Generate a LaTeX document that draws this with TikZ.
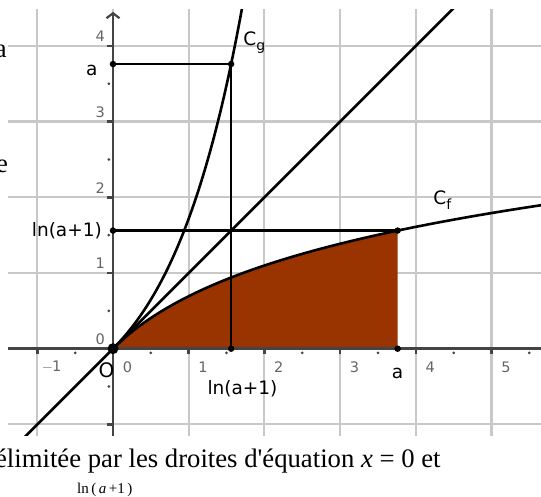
\documentclass[tikz,border=0pt]{standalone}
\usepackage{fontspec}
\newfontfamily\prosefont{Liberation Serif}
\newfontfamily\labfont{DejaVu Sans}
\usetikzlibrary{arrows.meta}
\definecolor{gridgray}{RGB}{200,200,200}
\definecolor{axisgray}{RGB}{68,68,68}
\definecolor{ticklab}{RGB}{100,100,100}
\definecolor{areabrown}{RGB}{153,51,0}
\begin{document}
\begin{tikzpicture}[x=75.7pt,y=75.7pt,
  gridline/.style={draw=gridgray,line width=2.2pt},
  axisline/.style={draw=axisgray,line width=2.5pt},
  curve/.style={draw=black,line width=2.6pt},
  seg/.style={draw=black,line width=2.4pt},
  pt/.style={circle,fill=black,inner sep=0pt,minimum size=6.5pt},
  bigpt/.style={circle,fill=black,inner sep=0pt,minimum size=11pt},
  lab/.style={font=\labfont\fontsize{18.5}{21}\selectfont,inner sep=0pt},
  ticklabel/.style={font=\labfont\fontsize{14.5}{16}\selectfont,text=ticklab,inner sep=0pt},
  prose/.style={font=\prosefont\fontsize{26.7}{30}\selectfont,inner sep=0pt}]
\useasboundingbox (-1.4927,-1.9591) rectangle (5.6539,4.6063);
\pgfmathsetmacro{\A}{3.76}
\pgfmathsetmacro{\L}{ln(1+\A)}
% grid
\foreach \i in {-1,...,5} \draw[gridline] (\i,-1.153) -- (\i,4.487);
\foreach \j in {-1,...,4} \draw[gridline] (-1.387,\j) -- (5.70,\j);
% area
\fill[areabrown] (0,0) -- plot[domain=0:\A,samples=60] (\x,{ln(1+\x)}) -- (\A,0) -- cycle;
% axes
\draw[axisline,-{Straight Barb[length=5pt,width=13pt,line width=2.2pt]}] (-1.387,0) -- (5.75,0);
\draw[axisline,-{Straight Barb[length=5pt,width=13pt,line width=2.2pt]}] (0,-1.153) -- (0,4.45);
\foreach \i in {-1,1,2,3,4,5} \draw[axisline] (\i,0) -- (\i,-0.075);
\foreach \j in {-1,1,2,3,4} \draw[axisline] (0,\j) -- (-0.075,\j);
\foreach \i in {-1,0,...,5} \fill[axisgray] (\i+0.5,-0.055) circle (1.5pt);
\foreach \j in {-1,0,...,3} \fill[axisgray] (-0.055,\j+0.5) circle (1.5pt);
% tick labels
\foreach \i in {-1,0,1,2,3,4,5} \node[ticklabel] (tx\i) at (\i+0.19,-0.245) {\ifnum\i<0 $-$\kern-1pt1\else\i\fi};
\foreach \j in {0,1,2,3,4} \node[ticklabel] (ty\j) at (-0.17,\j+0.125) {\j};
% curves
\begin{scope}
\clip (-1.387,-1.153) rectangle (5.654,4.487);
\draw[curve] (-1.2,-1.2) -- (4.6,4.6);
\draw[curve] plot[domain=0:1.74,samples=80] (\x,{exp(\x)-1});
\draw[curve] plot[domain=0:5.7,samples=80] (\x,{ln(1+\x)});
\end{scope}
% points
\coordinate (O) at (0,0);
\coordinate (Pya) at (0,\A);
\coordinate (Pg) at (\L,\A);
\coordinate (PyL) at (0,\L);
\coordinate (Pf) at (\A,\L);
\coordinate (PxL) at (\L,0);
\coordinate (Pxa) at (\A,0);
\draw[seg] (Pya) -- (Pg);
\draw[seg] (PyL) -- (Pf);
\draw[seg] (PxL) -- (Pg);
\foreach \p in {Pya,Pg,PyL,Pf,PxL,Pxa} \node[pt] at (\p) {};
\node[bigpt] (Odot) at (O) {};
% labels
\node[lab,font=\labfont\fontsize{20}{22}\selectfont] (labO) at (-0.085,-0.285) {O};
\node[lab] (laba1) at (-0.28,3.67) {a};
\node[lab,anchor=east] (labL1) at (-0.145,\L) {ln(a+1)};
\node[lab] (labL2) at (\L+0.15,-0.53) {ln(a+1)};
\node[lab] (laba2) at (\A,-0.33) {a};
\node[lab,anchor=base west] (labCg) at (1.72,4.0) {C\raisebox{-4.5pt}{\fontsize{14}{16}\selectfont g}};
\node[lab,anchor=base west] (labCf) at (4.23,1.90) {C\raisebox{-4.5pt}{\fontsize{14}{16}\selectfont f}};
% surrounding text
\node[prose,anchor=base east] (txt) at (4.33,-1.563) {délimitée par les droites d'équation \textit{x} = 0 et};
\node[font=\prosefont\fontsize{15}{17}\selectfont,inner sep=0pt,anchor=base west] (small) at (-0.475,-1.919) {ln\,(\,\textit{a}\,+1\,)};
\node[prose,anchor=base east] (pa) at (-1.4,3.85) {a};
\node[prose,anchor=base east] (pe) at (-1.385,2.33) {e};
\end{tikzpicture}
\end{document}
